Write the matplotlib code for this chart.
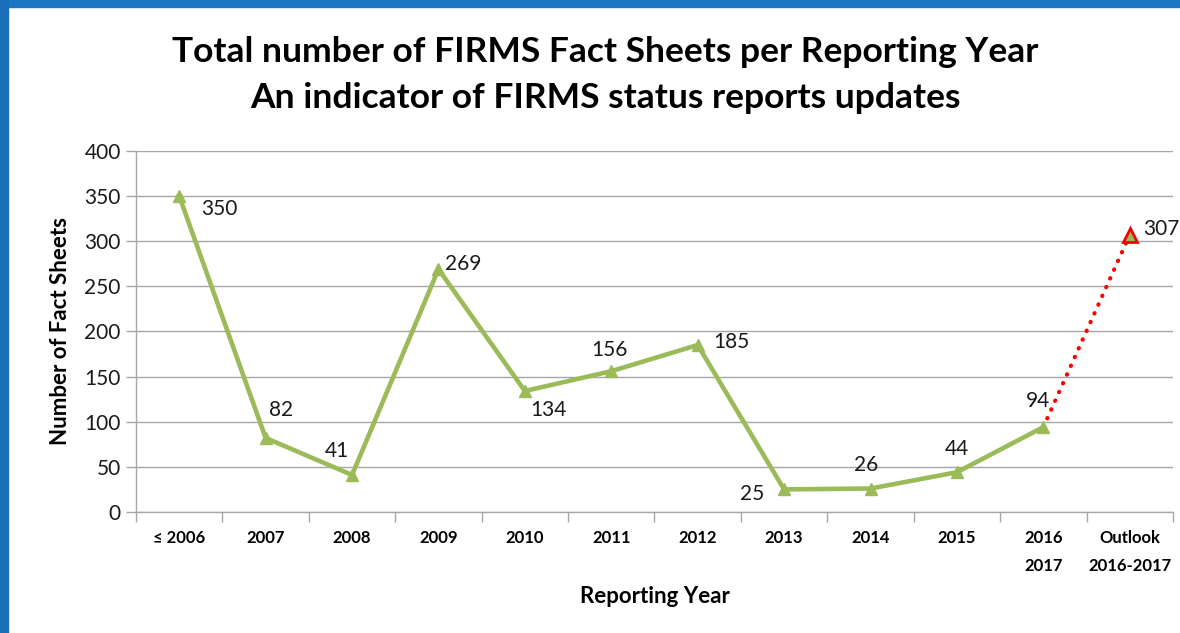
import matplotlib
matplotlib.use('Agg')
import matplotlib.pyplot as plt
from matplotlib.patches import Rectangle

plt.rcParams['font.family'] = ['Lato', 'DejaVu Sans']

# Data
categories = ['\u2264 2006', '2007', '2008', '2009', '2010', '2011', '2012',
              '2013', '2014', '2015', '2016\n2017', 'Outlook\n2016-2017']
values = [350, 82, 41, 269, 134, 156, 185, 25, 26, 44, 94]
outlook_value = 307
# label offsets in points (dx, dy)
label_offsets = [(29, -9), (11, 20), (-11, 17), (18, 4), (17, -14), (-1.5, 15),
                 (24, 2), (-23, -3), (-3, 17), (0, 17), (-4, 19)]

green = '#9BBB59'
grid_gray = '#A6A6A6'

fig = plt.figure(figsize=(11.8, 6.33), dpi=100)
ax = fig.add_axes([0.1153, 0.1912, 0.994 - 0.1153, 0.7615 - 0.1912])

x = list(range(len(values)))
ax.plot(x, values, color=green, lw=3.3, marker='^', markersize=8,
        markerfacecolor=green, markeredgecolor=green, zorder=3)

# outlook dotted segment
ox = len(values)
ax.plot([x[-1], ox], [values[-1], outlook_value], color='#FF0000', lw=3,
        linestyle=(0, (0.1, 2.2)), dash_capstyle='round', zorder=2)
ax.plot([ox], [outlook_value], marker='^', markersize=10, markerfacecolor=green,
        markeredgecolor='#FF0000', markeredgewidth=2, zorder=4)

for xi, v, (dx, dy) in zip(x, values, label_offsets):
    ax.annotate(str(v), (xi, v), xytext=(dx, dy), textcoords='offset points',
                ha='center', va='center', fontsize=15, color='#1a1a1a')
ax.annotate(str(outlook_value), (ox, outlook_value), xytext=(23, 4),
            textcoords='offset points', ha='center', va='center',
            fontsize=15, color='#1a1a1a')

ax.set_xlim(-0.5, len(categories) - 0.5)
ax.set_ylim(0, 400)
ax.set_yticks(range(0, 401, 50))
ax.tick_params(axis='y', labelsize=15, length=7, color=grid_gray, width=1,
               labelcolor='#1a1a1a', pad=4)
ax.set_xticks(range(len(categories)))
ax.set_xticklabels(categories, fontsize=12, fontweight='bold', linespacing=1.9)
ax.tick_params(axis='x', length=0, pad=13)
ax.set_xticks([i - 0.5 for i in range(len(categories) + 1)], minor=True)
ax.tick_params(axis='x', which='minor', length=7, color=grid_gray, width=1)

ax.grid(axis='y', color=grid_gray, lw=1)
ax.set_axisbelow(True)
for s in ['top', 'right']:
    ax.spines[s].set_visible(False)
for s in ['left', 'bottom']:
    ax.spines[s].set_color(grid_gray)
    ax.spines[s].set_linewidth(1)

ax.set_xlabel('Reporting Year', fontsize=16, fontweight='bold', labelpad=9)
ax.set_ylabel('Number of Fact Sheets', fontsize=16, fontweight='bold', labelpad=10)

fig.text(0.513, 0.918, 'Total number of FIRMS Fact Sheets per Reporting Year',
         ha='center', va='center', fontsize=25.5, fontweight='bold')
fig.text(0.513, 0.845, 'An indicator of FIRMS status reports updates',
         ha='center', va='center', fontsize=25.5, fontweight='bold')

# slide border
fig.patches.append(Rectangle((0, 1 - 7 / 633), 1, 7 / 633, transform=fig.transFigure,
                             color='#1A78C2', zorder=10))
fig.patches.append(Rectangle((0, 0), 8 / 1180, 1, transform=fig.transFigure,
                             color='#1A6FB8', zorder=10))

fig.savefig('out.png', dpi=100)
